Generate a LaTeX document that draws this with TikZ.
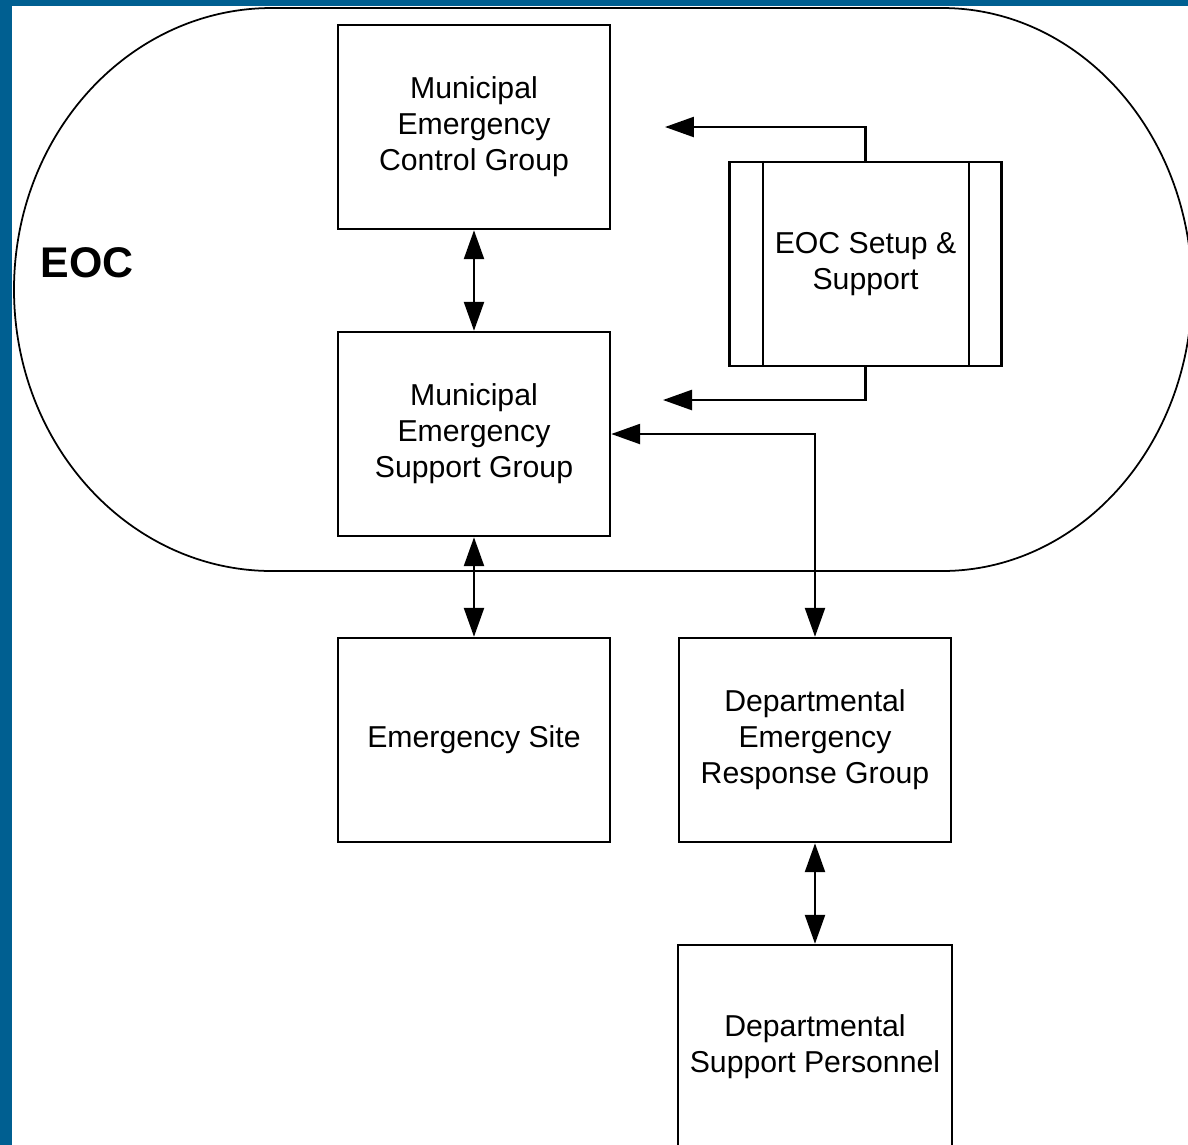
\documentclass[tikz,border=0pt]{standalone}
\usepackage{fontspec}
\setmainfont{Liberation Sans}
\usepackage{tikz}
\usetikzlibrary{arrows.meta}
\usetikzlibrary{calc}
\definecolor{slideBlue}{RGB}{0,95,145}
\tikzset{%
  >={Triangle[width=2mm,length=2.9mm]},
  % Specifications for style of nodes:
         base/.style = {rectangle, draw=black, line width=0.7pt,
                        minimum width=2.72cm, minimum height=2.04cm,
                        text centered, align=center,
                        font=\fontsize{8.6}{10.2}\selectfont},
        group/.style = {base},
     subgroup/.style = {base},
      eocText/.style = {font=\fontsize{12.2}{14}\selectfont\bfseries},
   connection/.style = {<->, line width=0.7pt},
}

\begin{document}
\begin{tikzpicture}[node distance=3.07cm]
  \useasboundingbox (0,0) rectangle (11.88,-11.45);

  % EOC outline (stadium shape)
  \draw[line width=0.5pt] (2.72,-0.08) -- (9.42,-0.08)
       arc[start angle=90, end angle=-90, x radius=2.50, y radius=2.815]
       -- (2.72,-5.71)
       arc[start angle=270, end angle=90, x radius=2.58, y radius=2.815];
  \node (eocLabel) [eocText] at (0.87,-2.63) {EOC};

  % Specification of nodes (position, etc.)
  \node (controlGrp) [group] at (4.74,-1.27) {Municipal\\Emergency\\Control Group};
  \node (supportGrp) [group, below of=controlGrp] {Municipal\\Emergency\\Support Group};
  \node (site)       [group, below of=supportGrp, yshift=0.01cm] {Emergency Site};
  \node (deptGrp)    [group, right of=site, xshift=0.34cm] {Departmental\\Emergency\\Response Group};
  \node (deptStaff)  [group, below of=deptGrp] {Departmental\\Support Personnel};
  \node (setup)      [subgroup] at (8.655,-2.64) {EOC Setup \&\\Support};
  \draw[line width=0.7pt] ($(setup.north west)+(0.345,0)$) -- ($(setup.south west)+(0.345,0)$);
  \draw[line width=0.7pt] ($(setup.north east)+(-0.34,0)$) -- ($(setup.south east)+(-0.34,0)$);

  % free ends of the setup arrows
  \coordinate (ctrlIn) at (6.65,-1.27);
  \coordinate (suppIn) at (6.63,-4.00);

  % Specification of lines between nodes specified above
  \draw[connection] (controlGrp) -- (supportGrp);
  \draw[connection] (supportGrp) -- (site);
  \draw[connection] (supportGrp.east) -| (deptGrp.north);
  \draw[connection] (deptGrp) -- (deptStaff);
  \draw[->,line width=0.7pt] (setup.north) |- (ctrlIn);
  \draw[->,line width=0.7pt] (setup.south) |- (suppIn);

  % slide frame
  \fill[slideBlue] (0,0) rectangle (0.12,-11.45);
  \fill[slideBlue] (0,0) rectangle (11.88,-0.06);
\end{tikzpicture}
\end{document}
